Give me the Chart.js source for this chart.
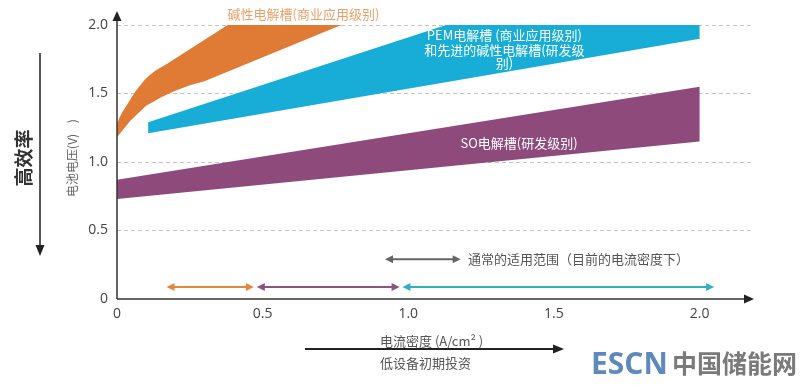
<!DOCTYPE html>
<html>
<head>
<meta charset="utf-8">
<script src="https://cdn.jsdelivr.net/npm/chart.js@4/dist/chart.umd.min.js"></script>
<style>
  html, body { margin: 0; padding: 0; background: #fff; }
  #wrap { width: 800px; height: 385px; }
</style>
</head>
<body>
<div id="wrap"><canvas id="chart" width="800" height="385"></canvas></div>
<script>
// axis ticks
const xTicks = [0, 0.5, 1.0, 1.5, 2.0];
const yTicks = [0, 0.5, 1.0, 1.5, 2.0];

// band edges, [current density, cell voltage]
const alkalineUpper = [[0, 1.28], [0.01, 1.33], [0.02, 1.37], [0.035, 1.42], [0.05, 1.47], [0.065, 1.52], [0.08, 1.56], [0.095, 1.6], [0.11, 1.63], [0.13, 1.665], [0.15, 1.69], [0.175, 1.72], [0.2, 1.755], [0.38, 2.0], [0.77, 2.0]];
const alkalineLower = [[0, 1.18], [0.015, 1.22], [0.03, 1.26], [0.045, 1.3], [0.06, 1.33], [0.08, 1.37], [0.1, 1.41], [0.125, 1.44], [0.15, 1.47], [0.2, 1.52], [0.25, 1.56], [0.3, 1.59], [0.77, 2.0]];
const pemUpper = [[0.107, 1.29], [1.13, 2.0], [2.0, 2.0]];
const pemLower = [[0.107, 1.21], [2.0, 1.9]];
const soUpper = [[0, 0.87], [2.0, 1.55]];
const soLower = [[0, 0.73], [2.0, 1.15]];

// operating ranges drawn as arrows along the bottom
const rangeLevel = 0.088;
const alkalineRange = [0.17, 0.47];
const soRange = [0.48, 0.97];
const pemRange = [0.98, 2.05];
const typicalRange = [0.92, 1.18];
const typicalLevel = 0.29;

const ORANGE = '#e07b35';
const CYAN = '#17add6';
const PURPLE = '#8d4a7b';

function band(upper, lower) {
    return upper.concat(lower.slice().reverse()).map(p => ({ x: p[0], y: p[1] }));
}

function arrowHead(ctx, x, y, dir, color, len = 8, half = 4) {
    ctx.fillStyle = color;
    ctx.beginPath();
    if (dir === 'right') { ctx.moveTo(x, y); ctx.lineTo(x - len, y - half); ctx.lineTo(x - len, y + half); }
    if (dir === 'left') { ctx.moveTo(x, y); ctx.lineTo(x + len, y - half); ctx.lineTo(x + len, y + half); }
    if (dir === 'up') { ctx.moveTo(x, y); ctx.lineTo(x - half, y + len); ctx.lineTo(x + half, y + len); }
    if (dir === 'down') { ctx.moveTo(x, y); ctx.lineTo(x - half, y - len); ctx.lineTo(x + half, y - len); }
    ctx.closePath();
    ctx.fill();
}

function hLine(ctx, x1, x2, y, color, width) {
    ctx.strokeStyle = color;
    ctx.lineWidth = width;
    ctx.beginPath();
    ctx.moveTo(x1, y);
    ctx.lineTo(x2, y);
    ctx.stroke();
}

function rangeArrow(ctx, xs, ys, range, level, color) {
    const x1 = xs.getPixelForValue(range[0]);
    const x2 = xs.getPixelForValue(range[1]);
    const y = ys.getPixelForValue(level);
    hLine(ctx, x1 + 4, x2 - 4, y, color, 2);
    arrowHead(ctx, x1, y, 'left', color, 8, 4);
    arrowHead(ctx, x2, y, 'right', color, 8, 4);
}

const CJK = '"Noto Sans CJK SC", "Noto Sans", sans-serif';

const decorations = {
    id: 'decorations',
    afterDatasetsDraw(chart) {
        const { ctx, chartArea: a, scales: { x, y } } = chart;
        ctx.save();

        // axes with arrow tips
        ctx.strokeStyle = '#333';
        ctx.lineWidth = 1.5;
        ctx.beginPath();
        ctx.moveTo(a.left, a.bottom);
        ctx.lineTo(a.left, 18);
        ctx.stroke();
        arrowHead(ctx, a.left, 11, 'up', '#222', 10, 4.5);
        hLine(ctx, a.left, a.right - 4, a.bottom, '#333', 1.5);
        arrowHead(ctx, a.right + 2, a.bottom, 'right', '#222', 10, 4.5);

        // range arrows
        rangeArrow(ctx, x, y, alkalineRange, rangeLevel, '#e0893e');
        rangeArrow(ctx, x, y, soRange, rangeLevel, '#8a557f');
        rangeArrow(ctx, x, y, pemRange, rangeLevel, '#2fb0c2');
        rangeArrow(ctx, x, y, typicalRange, typicalLevel, '#666');

        // labels on the bands
        ctx.textAlign = 'center';
        ctx.textBaseline = 'middle';
        ctx.font = '13px ' + CJK;
        ctx.fillStyle = '#eba06c';
        ctx.fillText('碱性电解槽(商业应用级别)', x.getPixelForValue(0.64), 14);
        ctx.fillStyle = '#fff';
        ctx.fillText('PEM电解槽 (商业应用级别)', x.getPixelForValue(1.33), 35);
        ctx.fillText('和先进的碱性电解槽(研发级', x.getPixelForValue(1.33), 50);
        ctx.fillText('别)', x.getPixelForValue(1.33), 63);
        ctx.fillText('SO电解槽(研发级别)', x.getPixelForValue(1.38), y.getPixelForValue(1.14));

        ctx.fillStyle = '#555';
        ctx.textAlign = 'left';
        ctx.fillText('通常的适用范围（目前的电流密度下）', x.getPixelForValue(1.205), y.getPixelForValue(typicalLevel));

        // y axis title
        ctx.save();
        ctx.translate(72, 158);
        ctx.rotate(-Math.PI / 2);
        ctx.textAlign = 'center';
        ctx.font = '12px ' + CJK;
        ctx.fillStyle = '#666';
        ctx.fillText('电池电压(V)    )', 0, 0);
        ctx.restore();

        // efficiency arrow on the left
        ctx.strokeStyle = '#222';
        ctx.lineWidth = 1.5;
        ctx.beginPath();
        ctx.moveTo(40, 53);
        ctx.lineTo(40, 246);
        ctx.stroke();
        arrowHead(ctx, 40, 256, 'down', '#222', 11, 4.5);
        ctx.save();
        ctx.translate(24, 158);
        ctx.rotate(-Math.PI / 2);
        ctx.textAlign = 'center';
        ctx.font = 'bold 19px ' + CJK;
        ctx.fillStyle = '#333';
        ctx.fillText('高效率', 0, 0);
        ctx.restore();

        // x axis title with investment arrow
        ctx.textAlign = 'left';
        ctx.font = '13px ' + CJK;
        ctx.fillStyle = '#555';
        ctx.fillText('电流密度 (A/cm² )', 380, 341);
        ctx.fillText('低设备初期投资', 380, 363);
        hLine(ctx, 305, 554, 349, '#222', 2);
        arrowHead(ctx, 564, 349, 'right', '#222', 11, 4.5);

        // watermark
        ctx.textBaseline = 'alphabetic';
        ctx.font = 'bold 30px "Open Sans", sans-serif';
        ctx.fillStyle = '#5f88bb';
        ctx.fillText('ESCN', 591, 374);
        ctx.font = 'bold 25px ' + CJK;
        ctx.fillStyle = '#7a7a7a';
        ctx.fillText('中国储能网', 672, 373);

        ctx.restore();
    }
};

const shape = (data, color) => ({
    data,
    backgroundColor: color,
    borderWidth: 0,
    pointRadius: 0,
    tension: 0,
    fill: 'shape'
});

new Chart(document.getElementById('chart'), {
    type: 'line',
    data: {
        datasets: [
            shape(band(alkalineUpper, alkalineLower), ORANGE),
            shape(band(pemUpper, pemLower), CYAN),
            shape(band(soUpper, soLower), PURPLE)
        ]
    },
    options: {
        responsive: false,
        animation: false,
        layout: { padding: { top: 25, right: 48, left: 0, bottom: 0 } },
        plugins: { legend: { display: false }, tooltip: { enabled: false } },
        scales: {
            x: {
                type: 'linear',
                min: 0,
                max: 2.18,
                afterBuildTicks: s => { s.ticks = xTicks.map(v => ({ value: v })); },
                afterFit: s => { s.height = 86; },
                grid: { display: false, drawTicks: false },
                border: { display: false },
                ticks: {
                    padding: 7,
                    color: '#444',
                    font: { family: '"Open Sans", sans-serif', size: 14 },
                    callback: v => v === 0 ? '0' : v.toFixed(1)
                }
            },
            y: {
                min: 0,
                max: 2.0,
                afterBuildTicks: s => { s.ticks = yTicks.map(v => ({ value: v })); },
                afterFit: s => { s.width = 117; },
                grid: {
                    drawTicks: false,
                    lineWidth: 1,
                    color: c => c.tick && c.tick.value === 0 ? 'rgba(0,0,0,0)' : '#c4c4c4'
                },
                border: { display: false, dash: [4, 3] },
                ticks: {
                    padding: 9,
                    color: '#444',
                    font: { family: '"Open Sans", sans-serif', size: 14 },
                    callback: v => v === 0 ? '0' : v.toFixed(1)
                }
            }
        }
    },
    plugins: [decorations]
});
</script>
</body>
</html>
